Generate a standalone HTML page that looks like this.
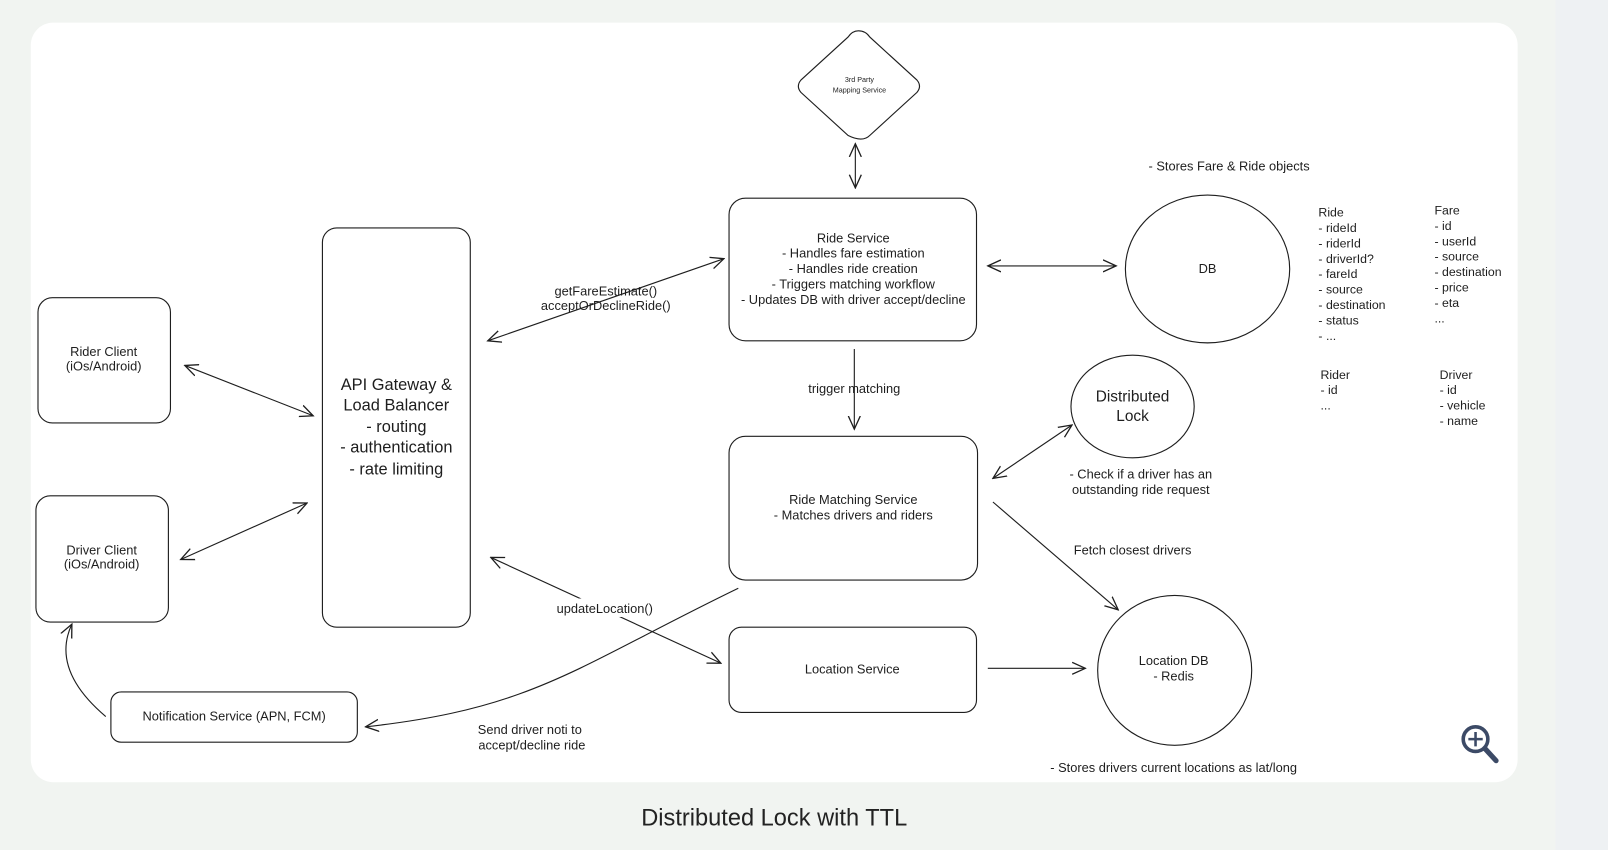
<!DOCTYPE html>
<html><head><meta charset="utf-8"><style>
html,body{margin:0;padding:0;background:#f1f4f1;width:1608px;height:850px;overflow:hidden}
svg{display:block}
text{font-family:"Liberation Sans",sans-serif;fill:#1e1e1e}
</style></head><body>
<svg width="1608" height="850" viewBox="0 0 1566 828" preserveAspectRatio="none" xmlns="http://www.w3.org/2000/svg">
<defs>
<marker id="a" viewBox="0 0 12 12" refX="11" refY="6" markerWidth="14" markerHeight="14" orient="auto-start-reverse" markerUnits="userSpaceOnUse">
<path d="M0,1 L11,6 L0,11" fill="none" stroke="#1e1e1e" stroke-width="1.1"/></marker>
</defs>
<rect x="0" y="0" width="1566" height="828" fill="#f1f4f1"/>
<rect x="1515" y="0" width="51" height="828" fill="#eef1f3"/>
<rect x="30" y="22" width="1448" height="740" rx="22" fill="#fff"/>
<g fill="none" stroke="#1e1e1e" stroke-width="1.1">
<path d="M836,30 Q843,30 847,36 L893,78 Q898,84 893,90 L847,132 Q840,139 826,132 L780,90 Q775,84 780,78 L826,36 Q830,30 836,30Z"/>
<rect x="710" y="193" width="241" height="139" rx="16"/>
<ellipse cx="1176" cy="262" rx="80" ry="72"/>
<rect x="314" y="222" width="144" height="389" rx="14"/>
<rect x="37" y="290" width="129" height="122" rx="14"/>
<rect x="35" y="483" width="129" height="123" rx="14"/>
<rect x="710" y="425" width="242" height="140" rx="16"/>
<ellipse cx="1103" cy="396" rx="60" ry="50"/>
<rect x="710" y="611" width="241" height="83" rx="12"/>
<ellipse cx="1144" cy="653" rx="75" ry="73"/>
<rect x="108" y="674" width="240" height="49" rx="10"/>
<path d="M833,140 L833,183" marker-start="url(#a)" marker-end="url(#a)"/>
<path d="M475,332 L705,252" marker-start="url(#a)" marker-end="url(#a)"/>
<path d="M962,259 L1087,259" marker-start="url(#a)" marker-end="url(#a)"/>
<path d="M180,356 L305,405" marker-start="url(#a)" marker-end="url(#a)"/>
<path d="M176,545 L299,490" marker-start="url(#a)" marker-end="url(#a)"/>
<path d="M832,340 L832,418" marker-end="url(#a)"/>
<path d="M967,466 L1044,414" marker-start="url(#a)" marker-end="url(#a)"/>
<path d="M967,489 L1089,594" marker-end="url(#a)"/>
<path d="M478,543 L702,646" marker-start="url(#a)" marker-end="url(#a)"/>
<path d="M962,651 L1057,651" marker-end="url(#a)"/>
<path d="M719,573 C560,650 520,690 356,708" marker-end="url(#a)"/>
<path d="M103,698 C70,670 55,640 70,608" marker-end="url(#a)"/>
</g>
<rect x="537" y="583" width="104" height="18" fill="#fff"/>
<text font-size="7" text-anchor="middle"><tspan x="837" y="80">3rd Party</tspan><tspan x="837" dy="10">Mapping Service</tspan></text>
<g font-size="12.5" text-anchor="middle">
<text x="831" y="236">Ride Service</text>
<text x="831" y="251">- Handles fare estimation</text>
<text x="831" y="266">- Handles ride creation</text>
<text x="831" y="281">- Triggers matching workflow</text>
<text x="831" y="296">- Updates DB with driver accept/decline</text>
<text x="590" y="288">getFareEstimate()</text>
<text x="590" y="302">acceptOrDeclineRide()</text>
<text x="1176" y="266">DB</text>
<text x="101" y="347">Rider Client</text>
<text x="101" y="361">(iOs/Android)</text>
<text x="99" y="540">Driver Client</text>
<text x="99" y="554">(iOs/Android)</text>
<text x="832" y="383">trigger matching</text>
<text x="831" y="491">Ride Matching Service</text>
<text x="831" y="506">- Matches drivers and riders</text>
<text x="830" y="656">Location Service</text>
<text x="1143" y="648">Location DB</text>
<text x="1143" y="663">- Redis</text>
<text x="228" y="702">Notification Service (APN, FCM)</text>
<text x="589" y="597">updateLocation()</text>
<text x="1103" y="540">Fetch closest drivers</text>
<text x="516" y="715">Send driver noti to</text>
<text x="518" y="730">accept/decline ride</text>
<text x="1111" y="466">- Check if a driver has an</text>
<text x="1111" y="481">outstanding ride request</text>
<text x="1197" y="166">- Stores Fare &amp; Ride objects</text>
<text x="1143" y="752">- Stores drivers current locations as lat/long</text>
</g>
<g font-size="15" text-anchor="middle">
<text x="1103" y="391">Distributed</text>
<text x="1103" y="410">Lock</text>
</g>
<g font-size="16" text-anchor="middle">
<text x="386" y="380">API Gateway &amp;</text>
<text x="386" y="400">Load Balancer</text>
<text x="386" y="421">- routing</text>
<text x="386" y="441">- authentication</text>
<text x="386" y="462">- rate limiting</text>
</g>
<g font-size="12">
<text x="1284" y="211">Ride</text><text x="1284" y="226">- rideId</text><text x="1284" y="241">- riderId</text><text x="1284" y="256">- driverId?</text><text x="1284" y="271">- fareId</text><text x="1284" y="286">- source</text><text x="1284" y="301">- destination</text><text x="1284" y="316">- status</text><text x="1284" y="331">- ...</text>
<text x="1397" y="209">Fare</text><text x="1397" y="224">- id</text><text x="1397" y="239">- userId</text><text x="1397" y="254">- source</text><text x="1397" y="269">- destination</text><text x="1397" y="284">- price</text><text x="1397" y="299">- eta</text><text x="1397" y="314">...</text>
<text x="1286" y="369">Rider</text><text x="1286" y="384">- id</text><text x="1286" y="399">...</text>
<text x="1402" y="369">Driver</text><text x="1402" y="384">- id</text><text x="1402" y="399">- vehicle</text><text x="1402" y="414">- name</text>
</g>
<g fill="none" stroke="#3c4a66" stroke-width="3.5">
<circle cx="1437" cy="720" r="12"/><path d="M1446,729 L1457,741" stroke-width="5" stroke-linecap="round"/>
<path d="M1437,713 V727 M1430,720 H1444" stroke-width="2.5"/>
</g>
<text x="754" y="804" font-size="23" text-anchor="middle" style="fill:#222">Distributed Lock with TTL</text>
</svg>
</body></html>
